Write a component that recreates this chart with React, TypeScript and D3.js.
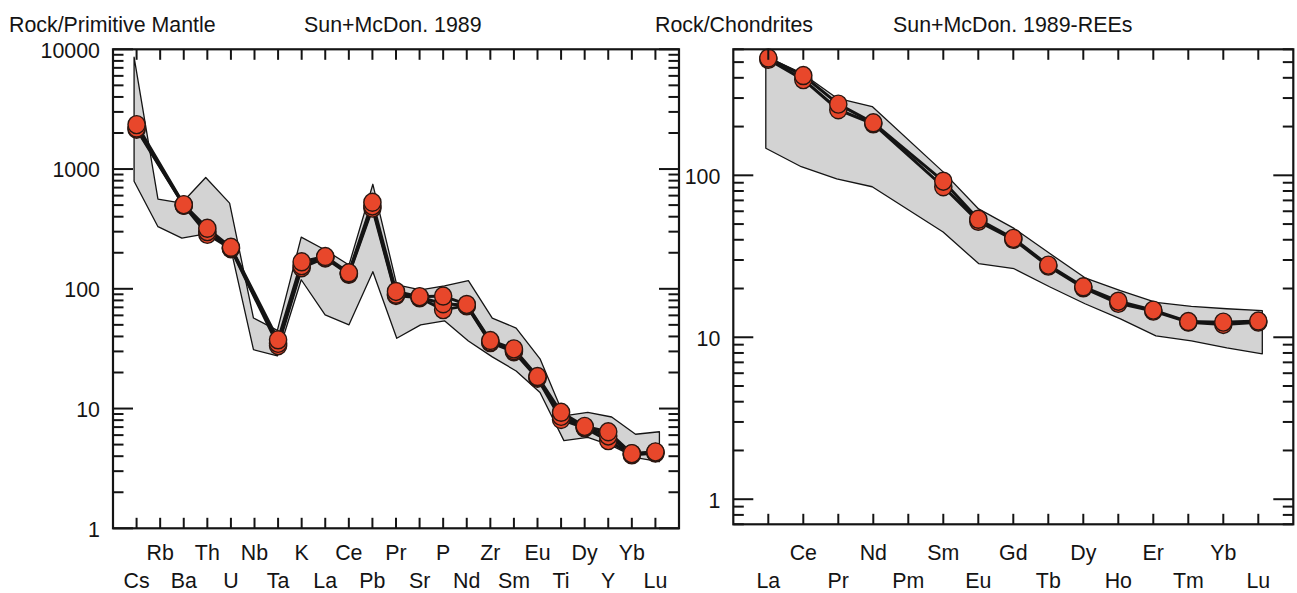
import React from 'react';
import * as d3 from 'd3';

// ---------- Data: Primitive-mantle normalised spider diagram ----------
const pmElements = ['Cs', 'Rb', 'Ba', 'Th', 'U', 'Nb', 'Ta', 'K', 'La', 'Ce', 'Pb', 'Pr', 'Sr', 'P', 'Nd', 'Zr', 'Sm', 'Eu', 'Ti', 'Dy', 'Y', 'Yb', 'Lu'];
const pmSample1: (number | null)[] = [2350, null, 505, 320, 222, null, 37.5, 168, 186, 136, 528, 95, 86, 87, 74, 37, 31.5, 18.5, 9.3, 7.1, 6.4, 4.2, 4.35];
const pmSample2: (number | null)[] = [2200, null, 500, 300, 219, null, 35, 156, 183, 134, 492, 90, 85, 75, 73, 36, 30.5, 18.2, 8.6, 7.0, 5.9, 4.2, 4.3];
const pmSample3: (number | null)[] = [2150, null, 497, 285, 216, null, 33.5, 150, 181, 132, 472, 88, 84, 67, 72, 35.5, 29.8, 17.9, 8.1, 6.9, 5.4, 4.1, 4.25];
const pmBandUpper = [8600, 560, 520, 850, 519, 57, 45, 270, 211, 158, 746, 108, 98, 106, 117, 57, 47, 26, 8.7, 9.3, 8.5, 6.1, 6.4];
const pmBandLower = [790, 330, 265, 288, 240, 31, 27.5, 119, 60.5, 50, 139, 38.6, 50, 54, 36.6, 27, 20.6, 13.6, 5.4, 5.75, 4.9, 3.9, 3.6];
const pmYTicks = [1, 10, 100, 1000, 10000];
const pmYTickLabels = ['1', '10', '100', '1000', '10000'];

// ---------- Data: Chondrite normalised REE diagram ----------
const reeElements = ['La', 'Ce', 'Pr', 'Nd', 'Pm', 'Sm', 'Eu', 'Gd', 'Tb', 'Dy', 'Ho', 'Er', 'Tm', 'Yb', 'Lu'];
const reeSample1: (number | null)[] = [530, 413, 275, 211, null, 92, 53.5, 40.8, 27.9, 20.5, 16.7, 14.7, 12.5, 12.4, 12.6];
const reeSample2: (number | null)[] = [520, 390, 254, 208, null, 85, 52, 40.2, 27.5, 20.2, 16.2, 14.5, 12.4, 12.0, 12.4];
const reeBandUpper: (number | null)[] = [540, 430, 300, 266, null, 105, 62, 47, 33, 23.3, 19.4, 16.4, 15.5, 15.0, 14.6];
const reeBandLower: (number | null)[] = [147, 113, 95, 85, null, 44.7, 28.5, 26.5, 20.5, 16.1, 13, 10.2, 9.5, 8.6, 7.9];
const reeYTicks = [1, 10, 100];
const reeYTickLabels = ['1', '10', '100'];

// ---------- Titles ----------
const pmTitleLeft = 'Rock/Primitive Mantle';
const pmTitleRight = 'Sun+McDon. 1989';
const reeTitleLeft = 'Rock/Chondrites';
const reeTitleRight = 'Sun+McDon. 1989-REEs';

const FONT = 'Liberation Sans, Arial, Helvetica, sans-serif';
const INK = '#141414';
const DOT_FILL = '#e8472b';
const DOT_STROKE = '#2a1711';
const BAND_FILL = '#d3d3d3';

type TextProps = { x: number; y: number; anchor?: 'start' | 'middle' | 'end'; children: React.ReactNode };
const T = ({ x, y, anchor = 'start', children }: TextProps) => (
  <text
    transform={`translate(${x},${y}) scale(0.93,1)`}
    textAnchor={anchor}
    fontSize={23}
    fontFamily={FONT}
    fill={INK}
  >
    {children}
  </text>
);

type PanelProps = {
  elements: string[];
  samples: (number | null)[][];
  upper: (number | null)[];
  lower: (number | null)[];
  left: number;
  right: number;
  top: number;
  bottom: number;
  yDomain: [number, number];
  yTicks: number[];
  yTickLabels: string[];
  labelGap: number;
};

function Panel({ elements, samples, upper, lower, left, right, top, bottom, yDomain, yTicks, yTickLabels, labelGap }: PanelProps) {
  const n = elements.length;
  const x = d3.scaleLinear().domain([-1, n]).range([left, right]);
  const y = d3.scaleLog().domain(yDomain).range([bottom, top]);
  // the envelope is drawn very slightly wider than the sample positions, as in the source plot
  const xb = d3.scaleLinear().domain([0, n - 1]).range([x(0) - 2.5, x(n - 1) + 4]);

  const bandIdx = d3.range(n).filter((i) => upper[i] != null && lower[i] != null);
  const area = d3
    .area<number>()
    .x((i) => xb(i))
    .y0((i) => y(lower[i] as number))
    .y1((i) => y(upper[i] as number));

  const [lo, hi] = yDomain;
  const tickVals: { v: number; major: boolean }[] = [];
  for (let d = Math.floor(Math.log10(lo)); d <= Math.ceil(Math.log10(hi)); d++) {
    for (let k = 1; k <= 9; k++) {
      const v = k * Math.pow(10, d);
      if (v >= lo * 0.999 && v <= hi * 1.001) tickVals.push({ v, major: k === 1 });
    }
  }
  const MAJ = 20;
  const MIN = 10.5;
  const XT = 10.5;

  return (
    <g>
      <path d={area(bandIdx) || ''} fill={BAND_FILL} stroke={INK} strokeWidth={1.3} strokeLinejoin="round" />
      {samples.map((s, si) => {
        const idx = d3.range(n).filter((i) => s[i] != null);
        const ln = d3
          .line<number>()
          .x((i) => x(i))
          .y((i) => y(s[i] as number));
        return <path key={'l' + si} d={ln(idx) || ''} fill="none" stroke={INK} strokeWidth={3} strokeLinejoin="round" />;
      })}
      {samples.map((s, si) =>
        d3
          .range(n)
          .filter((i) => s[i] != null)
          .map((i) => (
            <ellipse
              key={'c' + si + '-' + i}
              cx={x(i)}
              cy={y(s[i] as number)}
              rx={8.6}
              ry={9}
              fill={DOT_FILL}
              stroke={DOT_STROKE}
              strokeWidth={1.4}
            />
          ))
      )}
      <rect x={left} y={top} width={right - left} height={bottom - top} fill="none" stroke={INK} strokeWidth={2.2} />
      {tickVals.map((t, i) => (
        <g key={'yt' + i}>
          <line x1={left} x2={left + (t.major ? MAJ : MIN)} y1={y(t.v)} y2={y(t.v)} stroke={INK} strokeWidth={2} />
          <line x1={right} x2={right - (t.major ? MAJ : MIN)} y1={y(t.v)} y2={y(t.v)} stroke={INK} strokeWidth={2} />
        </g>
      ))}
      {elements.map((e, i) => (
        <g key={'xt' + e}>
          <line x1={x(i)} x2={x(i)} y1={top} y2={top + XT} stroke={INK} strokeWidth={2} />
          <line x1={x(i)} x2={x(i)} y1={bottom} y2={bottom - XT} stroke={INK} strokeWidth={2} />
        </g>
      ))}
      {yTicks.map((v, i) => (
        <T key={'yl' + v} x={left - labelGap} y={y(v) + 8.3} anchor="end">
          {yTickLabels[i]}
        </T>
      ))}
      {elements.map((e, i) => (
        <T key={'xl' + e} x={x(i)} y={i % 2 === 1 ? 560 : 588} anchor="middle">
          {e}
        </T>
      ))}
    </g>
  );
}

export default function App() {
  return (
    <svg width={1297} height={593} style={{ position: 'absolute', left: 0, top: 0, background: '#fff' }}>
      <rect x={0} y={0} width={1297} height={593} fill="#fff" />
      <T x={9} y={31.5}>{pmTitleLeft}</T>
      <T x={304} y={31.5}>{pmTitleRight}</T>
      <T x={655} y={31.5}>{reeTitleLeft}</T>
      <T x={893} y={31.5}>{reeTitleRight}</T>
      <Panel
        elements={pmElements}
        samples={[pmSample3, pmSample2, pmSample1]}
        upper={pmBandUpper}
        lower={pmBandLower}
        left={113}
        right={679}
        top={49.3}
        bottom={528.3}
        yDomain={[1, 10000]}
        yTicks={pmYTicks}
        yTickLabels={pmYTickLabels}
        labelGap={13}
      />
      <Panel
        elements={reeElements}
        samples={[reeSample2, reeSample1]}
        upper={reeBandUpper}
        lower={reeBandLower}
        left={733.3}
        right={1293.3}
        top={49.3}
        bottom={524.3}
        yDomain={[0.7, 600]}
        yTicks={reeYTicks}
        yTickLabels={reeYTickLabels}
        labelGap={13}
      />
    </svg>
  );
}
